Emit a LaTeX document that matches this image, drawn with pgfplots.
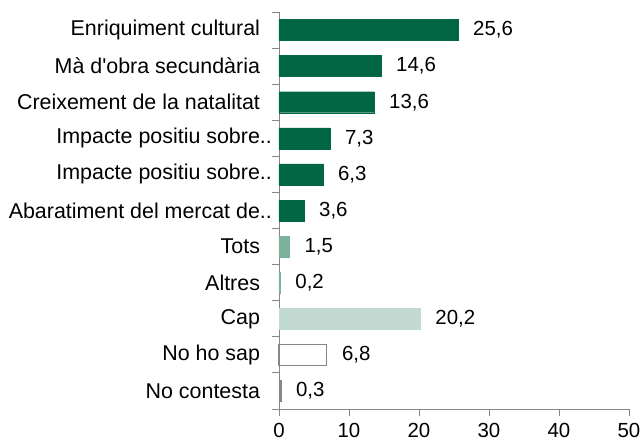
\documentclass[border=0pt]{standalone}
\usepackage{fontspec}
\setmainfont{Liberation Sans}
\usepackage{pgfplots}
\pgfplotsset{compat=1.18}
\definecolor{dkgreen}{RGB}{0,102,68}
\definecolor{midgreen}{RGB}{122,178,156}
\definecolor{ltgreen}{RGB}{194,218,210}
\definecolor{axgray}{RGB}{134,134,134}
\begin{document}
\fontsize{20.5}{24}\selectfont
\begin{tikzpicture}
\begin{axis}[
  name=ax,
  scale only axis,
  width=350bp, height=397bp,
  xmin=0, xmax=50,
  ymin=-0.5, ymax=10.5,
  y dir=reverse,
  axis x line*=bottom,
  axis y line*=left,
  axis line style={axgray, line width=0.9pt},
  xtick={0,10,...,50},
  ytick={0,...,10},
  yticklabels={Enriquiment cultural, Mà d\textquotesingle obra secundària, Creixement de la natalitat, Impacte positiu sobre\rlap{..}, Impacte positiu sobre\rlap{..}, Abaratiment del mercat de\rlap{..}, Tots, Altres, Cap, No ho sap, No contesta},
  major y tick style={draw=none},
  minor ytick={-0.5,0.5,...,10.5},
  minor y tick style={axgray, line width=0.9pt},
  minor tick length=7bp,
  major x tick style={axgray, line width=0.9pt},
  major tick length=7bp,
  tick align=outside,
  y tick label style={font=\fontsize{21.5}{25}\selectfont, xshift=-5bp},
  x tick label style={font=\fontsize{20.5}{24}\selectfont},
  /pgf/number format/assume math mode=true,
  xbar, bar width=21bp, bar shift=0pt,
  nodes near coords,
  nodes near coords style={font=\fontsize{20.5}{24}\selectfont, text=black, xshift=8bp,
    /pgf/number format/.cd, fixed, fixed zerofill, precision=1, use comma, assume math mode=true},
  clip=false,
]
\addplot[fill=dkgreen, draw=dkgreen] coordinates {(25.6,0) (14.6,1) (13.6,2) (7.3,3) (6.3,4) (3.6,5)};
\addplot[fill=midgreen, draw=midgreen] coordinates {(1.5,6) (0.2,7)};
\addplot[fill=ltgreen, draw=ltgreen] coordinates {(20.2,8)};
\addplot[fill=white, draw=axgray, line width=1.2pt] coordinates {(6.8,9)};
\addplot[fill=axgray, draw=axgray] coordinates {(0.3,10)};
\end{axis}
\pgfresetboundingbox
\useasboundingbox ([xshift=-279bp,yshift=-34bp]ax.south west) rectangle ([xshift=14bp,yshift=12bp]ax.north east);
\end{tikzpicture}
\end{document}
